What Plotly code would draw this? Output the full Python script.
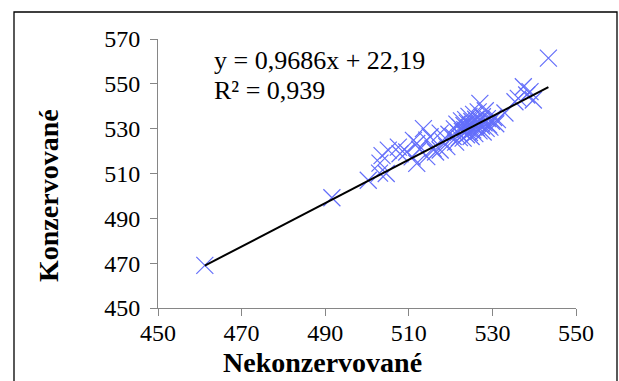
import plotly.graph_objects as go

# Data (Nekonzervované vs Konzervované)
nekonzervovane = [
    461.2, 491.6, 500.3, 503.0, 504.6, 503.1, 503.6, 505.1, 507.5, 507.9,
    509.5, 510.8, 511.1, 511.9, 511.9, 512.6, 513.5, 514.3, 514.3, 515.1,
    515.8, 516.4, 517.5, 517.5, 518.3, 519.1, 519.6, 520.6, 520.9, 521.2,
    521.5, 521.8, 522.1, 522.3, 522.6, 522.8, 523.0, 523.2, 523.4, 523.6,
    523.8, 524.0, 524.2, 524.4, 524.5, 524.7, 524.9, 525.1, 525.3, 525.5,
    525.6, 525.8, 526.0, 526.2, 526.4, 526.6, 526.8, 527.0, 527.2, 527.4,
    527.6, 527.8, 528.0, 528.3, 528.5, 528.8, 529.1, 529.4, 529.8, 530.3,
    530.8, 531.2, 533.0, 535.4, 536.2, 537.4, 538.2, 539.0, 539.8, 543.4,
]
konzervovane = [
    469.0, 499.2, 507.0, 510.2, 510.0, 514.6, 518.0, 520.4, 521.8, 518.8,
    519.6, 517.4, 524.8, 523.4, 514.5, 520.8, 530.0, 524.9, 517.5, 526.4,
    521.2, 519.6, 528.0, 520.5, 524.1, 522.0, 527.5, 526.5, 529.9, 524.0,
    532.0, 528.2, 526.0, 530.6, 533.5, 528.8, 525.8, 531.4, 529.5, 534.0,
    527.3, 532.5, 530.0, 535.5, 528.3, 531.6, 526.5, 533.2, 529.4, 536.4,
    531.0, 527.8, 534.2, 530.3, 532.5, 537.5, 529.0, 541.3, 533.8, 531.2,
    535.3, 528.5, 532.6, 538.0, 530.1, 534.5, 531.7, 530.7, 533.3, 535.0,
    532.2, 534.0, 537.0, 542.0, 543.5, 548.7, 545.0, 546.5, 542.8, 561.5,
]

# Trendline parameters (from the equation shown on the chart)
slope = 0.9686
intercept = 22.19
eq_text = "y = 0,9686x + 22,19"
r2_text = "R² = 0,939"

x_ticks = [450, 470, 490, 510, 530, 550]
y_ticks = [450, 470, 490, 510, 530, 550, 570]

serif = "Liberation Serif, Times New Roman, serif"
axis_col = "#868686"

x_min, x_max = min(nekonzervovane), max(nekonzervovane)
trend_x = [x_min, x_max]
trend_y = [slope * v + intercept for v in trend_x]

fig = go.Figure()
fig.add_trace(go.Scatter(
    x=nekonzervovane, y=konzervovane, mode="markers",
    marker=dict(symbol="x-thin-open", size=17,
                line=dict(color="rgba(20,20,150,0.75)", width=1.2)),
    hoverinfo="skip",
))
fig.add_trace(go.Scatter(
    x=trend_x, y=trend_y, mode="lines",
    line=dict(color="black", width=2), hoverinfo="skip",
))

L, R, T, B = 158, 43, 39, 73
W, H = 619, 381
pw, ph = W - L - R, H - T - B

def px_x(p):
    return (p - L) / pw

def px_y(p):
    return (H - B - p) / ph

fig.update_layout(
    width=W, height=H,
    margin=dict(l=L, r=R, t=T, b=B),
    plot_bgcolor="white", paper_bgcolor="white",
    showlegend=False,
    font=dict(family=serif, color="black"),
    xaxis=dict(range=[450, 550], tickvals=x_ticks, ticktext=[str(v) for v in x_ticks],
               showline=True, linecolor=axis_col, linewidth=1,
               ticks="outside", ticklen=7, tickcolor=axis_col, tickwidth=1,
               ticklabelstandoff=-4,
               showgrid=False, zeroline=False,
               tickfont=dict(family=serif, size=24, color="black")),
    yaxis=dict(range=[450, 570], tickvals=y_ticks, ticktext=[str(v) for v in y_ticks],
               showline=True, linecolor=axis_col, linewidth=1,
               ticks="outside", ticklen=7, tickcolor=axis_col, tickwidth=1,
               ticklabelstandoff=5,
               showgrid=False, zeroline=False,
               tickfont=dict(family=serif, size=24, color="black")),
    shapes=[dict(type="rect", xref="paper", yref="paper",
                 x0=px_x(14), x1=px_x(617), y0=px_y(390), y1=px_y(12),
                 line=dict(color="black", width=1.3))],
    annotations=[
        dict(text=eq_text, xref="paper", yref="paper", x=px_x(212), y=px_y(60),
             xanchor="left", yanchor="middle", showarrow=False,
             font=dict(family=serif, size=26, color="black")),
        dict(text=r2_text, xref="paper", yref="paper", x=px_x(212), y=px_y(90),
             xanchor="left", yanchor="middle", showarrow=False,
             font=dict(family=serif, size=26, color="black")),
        dict(text="<b>Nekonzervované</b>", xref="paper", yref="paper",
             x=px_x(322), y=px_y(363), xanchor="center", yanchor="middle",
             showarrow=False, font=dict(family=serif, size=28, color="black")),
        dict(text="<b>Konzervované</b>", xref="paper", yref="paper",
             x=px_x(48), y=px_y(196), xanchor="center", yanchor="middle",
             textangle=-90, showarrow=False,
             font=dict(family=serif, size=28, color="black")),
    ],
)

fig.write_html("out.html")
